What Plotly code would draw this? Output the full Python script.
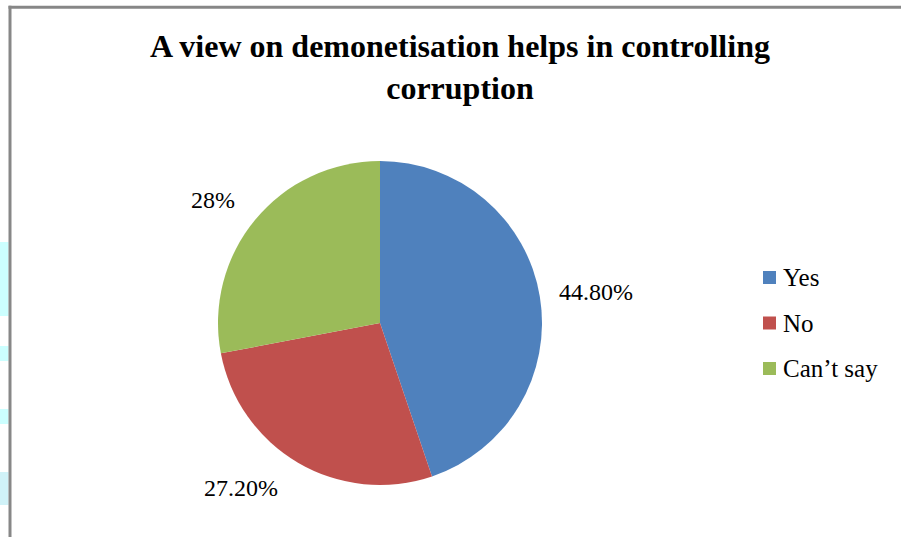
import plotly.graph_objects as go

# Survey responses
categories = ["Yes", "No", "Can\u2019t say"]
shares = [44.8, 27.2, 28.0]
colors = ["#4F81BD", "#C0504D", "#9BBB59"]

W, H = 901, 537
SERIF = "Liberation Serif, serif"


def pct_text(v):
    return f"{int(v)}%" if float(v).is_integer() else f"{v:.2f}%"


def px(x):
    return x / W


def py(y):
    return 1 - y / H


fig = go.Figure(
    go.Pie(
        labels=categories,
        values=shares,
        marker=dict(colors=colors, line=dict(width=0)),
        sort=False,
        direction="clockwise",
        rotation=0,
        textinfo="none",
        hoverinfo="skip",
        showlegend=False,
        domain=dict(x=[px(218), px(542)], y=[py(485), py(161)]),
    )
)

# Data labels (best-fit placement around the pie)
label_pos = [(596, 292), (241, 488), (213, 200)]
for v, (lx, ly) in zip(shares, label_pos):
    fig.add_annotation(
        x=px(lx), y=py(ly), xref="paper", yref="paper",
        text=pct_text(v), showarrow=False,
        xanchor="center", yanchor="middle",
        font=dict(family=SERIF, size=24, color="#000000"),
    )

# Legend: colour keys with category names
legend_top = 271
row_gap = 45.5
key = 13
for i, (name, c) in enumerate(zip(categories, colors)):
    y0 = legend_top + i * row_gap
    fig.add_shape(
        type="rect", xref="paper", yref="paper",
        x0=px(763), x1=px(763 + key), y0=py(y0 + key), y1=py(y0),
        fillcolor=c, line=dict(width=0),
    )
    fig.add_annotation(
        x=px(781), y=py(y0 + key / 2), xref="paper", yref="paper",
        text=name, showarrow=False, xanchor="left", yanchor="middle",
        font=dict(family=SERIF, size=25, color="#000000"),
    )

# Chart area frame (left and top edges), running past the page edges
frame_color = "#878787"
fig.add_shape(type="rect", xref="paper", yref="paper",
              x0=px(8.5), x1=px(11.5), y0=-0.05, y1=py(5.8),
              fillcolor=frame_color, line=dict(width=0))
fig.add_shape(type="rect", xref="paper", yref="paper",
              x0=px(8.5), x1=1.05, y0=py(8.8), y1=py(5.8),
              fillcolor=frame_color, line=dict(width=0))

# Faint page tint strips at the far left
for (a, b, c) in [(242, 316, "#CCFFFF"), (346, 361, "#CCFFFF"),
                  (409, 424, "#CCFFFF"), (472, 505, "#D0F2F8")]:
    fig.add_shape(
        type="rect", xref="paper", yref="paper",
        x0=0, x1=px(8.5), y0=py(b), y1=py(a),
        fillcolor=c, line=dict(width=0), layer="below",
    )

fig.add_annotation(
    x=px(460), y=py(26), xref="paper", yref="paper",
    text="<b>A view on demonetisation helps in controlling<br>corruption</b>",
    showarrow=False, xanchor="center", yanchor="top",
    font=dict(family=SERIF, size=32, color="#000000"),
)

fig.update_layout(
    width=W, height=H,
    margin=dict(l=0, r=0, t=0, b=0),
    paper_bgcolor="#FFFFFF",
    plot_bgcolor="#FFFFFF",
    showlegend=False,
)

fig.write_html("out.html", config={"displayModeBar": False})
